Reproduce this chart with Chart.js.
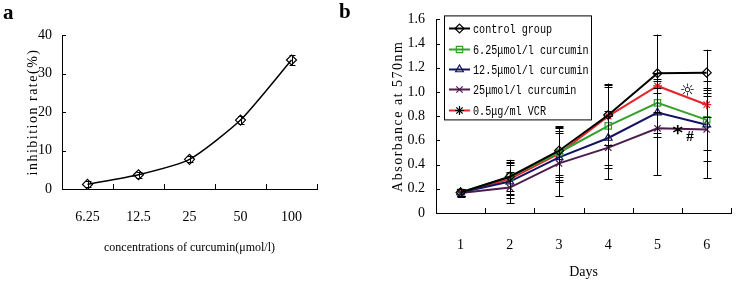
<!DOCTYPE html>
<html>
<head>
<meta charset="utf-8">
<script src="https://cdn.jsdelivr.net/npm/chart.js@4.4.1/dist/chart.umd.min.js"></script>
<style>
  html, body { margin: 0; padding: 0; background: #fff; }
  #wrap { position: relative; width: 737px; height: 285px; overflow: hidden; }
  canvas { position: absolute; top: 0; }
  #ca { left: 0; }
  #cb { left: 370px; }
  .panel { position: absolute; font-family: "Liberation Serif", serif; font-weight: bold; font-size: 21px; line-height: 21px; color: #000; }
</style>
</head>
<body>
<div id="wrap">
  <canvas id="ca" width="340" height="285"></canvas>
  <canvas id="cb" width="367" height="285"></canvas>
  <div class="panel" style="left:3px; top:2px;">a</div>
  <div class="panel" style="left:339px; top:1px;">b</div>
</div>
<script>
// ---------- Panel a data ----------
const concLabels = ['6.25', '12.5', '25', '50', '100'];
const inhibitionRate = [1.2, 3.7, 7.7, 17.9, 33.5];
const inhibitionErr = [0.8, 0.8, 0.8, 1.1, 1.3];
const aTicks = [0, 10, 20, 30, 40];

// ---------- Panel b data ----------
const dayLabels = ['1', '2', '3', '4', '5', '6'];
const seriesNames = ['control group', '6.25\u03bcmol/l curcumin', '12.5\u03bcmol/l curcumin', '25\u03bcmol/l curcumin', '0.5\u03bcg/ml VCR'];
const controlVals = [0.17, 0.30, 0.515, 0.81, 1.155, 1.16];
const cur625Vals = [0.17, 0.30, 0.50, 0.72, 0.91, 0.77];
const cur125Vals = [0.17, 0.26, 0.46, 0.62, 0.83, 0.73];
const cur25Vals = [0.165, 0.21, 0.41, 0.54, 0.70, 0.69];
const vcrVals = [0.17, 0.28, 0.49, 0.80, 1.05, 0.895];
const controlErr = [0.03, 0.14, 0.20, 0.25, 0.32, 0.19];
const cur625Err = [0.03, 0.12, 0.20, 0.35, 0.25, 0.25];
const cur125Err = [0.03, 0.14, 0.20, 0.22, 0.20, 0.30];
const cur25Err = [0.03, 0.13, 0.27, 0.26, 0.39, 0.40];
const vcrErr = [0.03, 0.13, 0.22, 0.24, 0.06, 0.10];
const bTicks = [0, 0.2, 0.4, 0.6, 0.8, 1, 1.2, 1.4, 1.6];
const annotText = ['\u263c', '*', '#'];
const annotDay = [4.61, 4.41, 4.66];
const annotVal = [1.0, 0.69, 0.63];

const SERIF = '"Liberation Serif", "Times New Roman", serif';

function patchTitleSpacing(scale, spacing) {
  if (scale._spPatched) return;
  const orig = scale.drawTitle;
  scale.drawTitle = function () {
    const c = this.ctx;
    const prev = c.letterSpacing;
    c.letterSpacing = spacing;
    orig.apply(this, arguments);
    c.letterSpacing = prev;
  };
  scale._spPatched = true;
}

// inward tick marks, positioned from the library's own scales
const inwardTicksPlugin = {
  id: 'inwardTicks',
  afterDraw(chart) {
    const ctx = chart.ctx;
    const xs = chart.scales.x, ys = chart.scales.y;
    const area = chart.chartArea;
    ctx.save();
    ctx.strokeStyle = '#000';
    ctx.lineWidth = 1;
    ctx.beginPath();
    const n = xs.ticks.length;
    for (let i = 0; i <= n; i++) {
      const x = Math.round(xs.getPixelForValue(i - 0.5)) + 0.5;
      ctx.moveTo(x, area.bottom);
      ctx.lineTo(x, area.bottom - 5);
    }
    ys.ticks.forEach((t) => {
      const y = Math.round(ys.getPixelForValue(t.value)) + 0.5;
      ctx.moveTo(area.left, y);
      ctx.lineTo(area.left + 4, y);
    });
    ctx.stroke();
    ctx.restore();
  }
};

const errorBarPlugin = {
  id: 'errorBars',
  afterDatasetsDraw(chart) {
    const ctx = chart.ctx;
    const xs = chart.scales.x, ys = chart.scales.y;
    ctx.save();
    ctx.strokeStyle = '#000';
    ctx.lineWidth = 1;
    chart.data.datasets.forEach((ds) => {
      if (!ds.errors) return;
      ds.data.forEach((v, i) => {
        const e = ds.errors[i];
        const x = Math.round(xs.getPixelForValue(i)) + 0.5;
        const yt = ys.getPixelForValue(v + e);
        const yb = ys.getPixelForValue(v - e);
        const cw = ds.capHalf || 4;
        ctx.beginPath();
        ctx.moveTo(x, yt); ctx.lineTo(x, yb);
        ctx.moveTo(x - cw, Math.round(yt) + 0.5); ctx.lineTo(x + cw, Math.round(yt) + 0.5);
        ctx.moveTo(x - cw, Math.round(yb) + 0.5); ctx.lineTo(x + cw, Math.round(yb) + 0.5);
        ctx.stroke();
      });
    });
    ctx.restore();
  }
};

// ---------- Chart a ----------
new Chart(document.getElementById('ca'), {
  type: 'line',
  data: {
    labels: concLabels,
    datasets: [{
      data: inhibitionRate,
      errors: inhibitionErr,
      capHalf: 3,
      borderColor: '#000',
      borderWidth: 1.5,
      tension: 0.2,
      pointStyle: 'rectRot',
      pointRadius: 5,
      pointBorderWidth: 1.2,
      pointBorderColor: '#000',
      pointBackgroundColor: 'rgba(255,255,255,0)'
    }]
  },
  options: {
    responsive: false,
    animation: false,
    devicePixelRatio: 1,
    layout: { padding: { left: 0, top: 35, right: 23, bottom: 0 } },
    plugins: { legend: { display: false }, tooltip: { enabled: false } },
    scales: {
      x: {
        type: 'category',
        offset: true,
        grid: { display: false, drawTicks: false },
        border: { display: true, color: '#000', width: 1 },
        ticks: { color: '#000', font: { family: SERIF, size: 14 }, padding: 20, maxRotation: 0 },
        title: { display: true, text: 'concentrations of curcumin(\u03bcmol/l)', color: '#000', font: { family: SERIF, size: 12 }, padding: { top: 0, bottom: 30 } },
        afterFit(s) { s.height = 96; }
      },
      y: {
        min: 0, max: 40,
        afterBuildTicks(s) { s.ticks = aTicks.map(v => ({ value: v })); },
        grid: { display: false, drawTicks: false },
        border: { display: true, color: '#000', width: 1 },
        ticks: { color: '#000', font: { family: SERIF, size: 14 }, padding: 10 },
        title: { display: true, text: 'inhibition rate(%)', color: '#000', font: { family: SERIF, size: 14 }, padding: { top: 25, bottom: 0 } },
        afterFit(s) { s.width = 62; patchTitleSpacing(s, '1.5px'); }
      }
    }
  },
  plugins: [errorBarPlugin, inwardTicksPlugin]
});

// ---------- Chart b ----------
const annotPlugin = {
  id: 'annot',
  afterDatasetsDraw(chart) {
    const ctx = chart.ctx;
    const xs = chart.scales.x, ys = chart.scales.y;
    ctx.save();
    ctx.fillStyle = '#000';
    ctx.textAlign = 'center';
    ctx.textBaseline = 'middle';
    annotText.forEach((t, i) => {
      ctx.font = t === '\u263c' ? 'bold 17px "DejaVu Sans", sans-serif' : (t === '*' ? 'bold 20px "DejaVu Sans", sans-serif' : 'bold 15px "Liberation Serif", serif');
      ctx.fillText(t, xs.getPixelForValue(annotDay[i]), ys.getPixelForValue(annotVal[i]) + (t === '*' ? 4 : 0));
    });
    ctx.restore();
  }
};

const legendBoxPlugin = {
  id: 'legendBox',
  afterDraw(chart) {
    const ctx = chart.ctx;
    const area = chart.chartArea;
    const bx = area.left + 8, by = area.top - 4, bw = 147, bh = 104;
    ctx.save();
    ctx.fillStyle = '#fff';
    ctx.fillRect(bx, by, bw, bh);
    ctx.strokeStyle = '#000';
    ctx.lineWidth = 1;
    ctx.strokeRect(bx + 0.5, by + 0.5, bw, bh);
    chart.data.datasets.forEach((ds, i) => {
      const cy = Math.round(by + 13 + i * 20.3) + 0.5;
      ctx.strokeStyle = ds.borderColor;
      ctx.lineWidth = 2;
      ctx.beginPath();
      ctx.moveTo(bx + 5, cy); ctx.lineTo(bx + 26, cy);
      ctx.stroke();
      ctx.save();
      ctx.strokeStyle = ds.legendMarkerColor || ds.pointBorderColor;
      ctx.fillStyle = 'rgba(255,255,255,0)';
      ctx.lineWidth = 1.2;
      Chart.helpers.drawPoint(ctx, { pointStyle: ds.pointStyle, radius: 4.5, borderWidth: 1.2, rotation: 0 }, bx + 15.5, cy);
      ctx.restore();
      ctx.save();
      ctx.translate(bx + 29, cy);
      ctx.scale(0.78, 1);
      ctx.fillStyle = '#000';
      ctx.font = '13px "Liberation Mono", "DejaVu Sans Mono", monospace';
      ctx.textBaseline = 'middle';
      ctx.textAlign = 'left';
      ctx.fillText(ds.label, 0, 1);
      ctx.restore();
    });
    ctx.restore();
  }
};

function mkSeries(label, data, errors, color, style, legendMarkerColor) {
  return {
    label, data, errors, legendMarkerColor,
    borderColor: color,
    borderWidth: 2,
    tension: 0,
    pointStyle: style,
    pointRadius: 4.5,
    pointBorderWidth: 1.2,
    pointBorderColor: color,
    pointBackgroundColor: 'rgba(255,255,255,0)'
  };
}

new Chart(document.getElementById('cb'), {
  type: 'line',
  data: {
    labels: dayLabels,
    datasets: [
      mkSeries(seriesNames[0], controlVals, controlErr, '#000000', 'rectRot'),
      mkSeries(seriesNames[1], cur625Vals, cur625Err, '#33a02c', 'rect'),
      mkSeries(seriesNames[2], cur125Vals, cur125Err, '#141464', 'triangle'),
      mkSeries(seriesNames[3], cur25Vals, cur25Err, '#4e1c4e', 'crossRot'),
      mkSeries(seriesNames[4], vcrVals, vcrErr, '#e3262b', 'star', '#000000')
    ]
  },
  options: {
    responsive: false,
    animation: false,
    devicePixelRatio: 1,
    layout: { padding: { left: 0, top: 17, right: 1, bottom: 0 } },
    plugins: { legend: { display: false }, tooltip: { enabled: false } },
    scales: {
      x: {
        type: 'category',
        offset: true,
        grid: { display: false, drawTicks: false },
        border: { display: true, color: '#000', width: 1 },
        ticks: { color: '#000', font: { family: SERIF, size: 14 }, padding: 24, maxRotation: 0 },
        title: { display: true, text: 'Days', color: '#000', font: { family: SERIF, size: 14 }, padding: { top: 0, bottom: 4 } },
        afterFit(s) { s.height = 72; }
      },
      y: {
        min: 0, max: 1.6,
        afterBuildTicks(s) { s.ticks = bTicks.map(v => ({ value: v })); },
        grid: { display: false, drawTicks: false },
        border: { display: true, color: '#000', width: 1 },
        ticks: { color: '#000', font: { family: SERIF, size: 14 }, padding: 11 },
        title: { display: true, text: 'Absorbance at 570nm', color: '#000', font: { family: SERIF, size: 14 }, padding: { top: 20, bottom: 0 } },
        afterFit(s) { s.width = 66; patchTitleSpacing(s, '1.5px'); }
      }
    }
  },
  plugins: [errorBarPlugin, annotPlugin, legendBoxPlugin, inwardTicksPlugin]
});
</script>
</body>
</html>
